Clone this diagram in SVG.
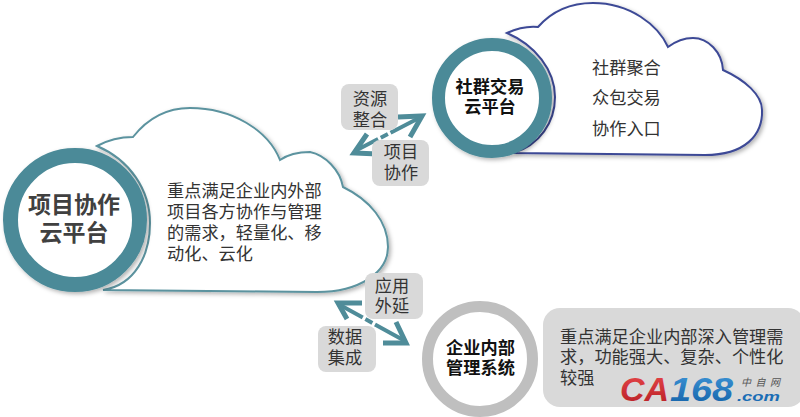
<svg xmlns="http://www.w3.org/2000/svg" width="800" height="417" viewBox="0 0 800 417">
<style>
text{font-family:"Liberation Sans","Noto Sans CJK SC",sans-serif}
.t{font-size:17.2px;fill:#333}
.m{text-anchor:middle}
.b{font-weight:700}
.box{fill:#d9d9d9}
.cloud{fill:#fff;stroke-width:2;stroke-linejoin:miter;filter:url(#sh)}
.ring{fill:#fff;filter:url(#sh)}
.arr{fill:none;stroke:#4f8c99;stroke-width:5}
.shaft{fill:none;stroke:#4f8c99;stroke-width:4}
.logo{font-style:italic;font-weight:700}
</style>
<defs>
<filter id="sh" x="-15%" y="-15%" width="130%" height="130%">
<feDropShadow dx="2" dy="2" stdDeviation="2" flood-color="#000" flood-opacity=".3"/>
</filter>
<linearGradient id="red" x1="0" y1="0" x2="0" y2="1"><stop offset="0" stop-color="#e8474a"/><stop offset="1" stop-color="#b51e24"/></linearGradient>
<linearGradient id="blue" x1="0" y1="0" x2="0" y2="1"><stop offset="0" stop-color="#3f97d8"/><stop offset="1" stop-color="#125fa6"/></linearGradient>
</defs>
<rect width="800" height="417" fill="#fff"/>
<g id="connectors">
<path class="shaft" d="M355,151 L419,118" stroke-dasharray="26 3 8 3 40"/>
<path class="arr" d="M398,117 L422,116 L410,137"/>
<path class="arr" d="M367,134 L354,153 L378,154"/>
<path class="shaft" d="M340,305 L405,341" stroke-dasharray="26 3 8 3 40"/>
<path class="arr" d="M362,303 L338,303 L347,319"/>
<path class="arr" d="M396,322 L406,343 L383,343"/>
</g>
<g id="cloud-project">
<path class="cloud" stroke="#5b939f" d="M97,146 C108,140 120,137 133,137 C148,118 168,108 190,108 C232,108 268,130 280,160 C290,153 300,152 310,152 C325,155 340,170 343,187 C370,200 388,222 388,247 C388,272 360,292 317,292 L103,290 C135,285 150,255 150,223 C150,190 130,160 97,146 Z"/>
<text class="t"><tspan x="167" y="197">重点满足企业内外部</tspan><tspan x="167" y="218">项目各方协作与管理</tspan><tspan x="167" y="239">的需求，轻量化、移</tspan><tspan x="167" y="260">动化、云化</tspan></text>
<circle class="ring" cx="75" cy="220" r="64.5" stroke="#4b8a98" stroke-width="15"/>
<text class="m b" font-size="23" fill="#404040" x="74" y="213">项目协作</text>
<text class="m b" font-size="23" fill="#404040" x="74" y="241">云平台</text>
</g>
<g id="cloud-community">
<path class="cloud" stroke="#3d4a96" d="M507,33 C518,28 528,26 538,27 C553,10 572,3 593,3 C630,3 658,25 668,47 C676,41 685,38 693,38 C708,38 722,52 723,70 C745,80 762,95 762,110 C763,135 745,155 705,155 L513,153 C540,145 555,122 555,97 C555,70 535,45 507,33 Z"/>
<text class="t"><tspan x="592" y="74">社群聚合</tspan><tspan x="592" y="104">众包交易</tspan><tspan x="592" y="135">协作入口</tspan></text>
<circle class="ring" cx="492" cy="98" r="53.5" stroke="#4b8a98" stroke-width="13"/>
<text class="m b" font-size="17.2" fill="#111" x="490" y="93">社群交易</text>
<text class="m b" font-size="17.2" fill="#111" x="490" y="113">云平台</text>
</g>
<g id="system-enterprise">
<circle cx="480" cy="359" r="52.5" fill="#fff" stroke="#bfbfbf" stroke-width="11"/>
<text class="m b" font-size="17.2" fill="#111" x="480.500" y="354">企业内部</text>
<text class="m b" font-size="17.2" fill="#111" x="480.500" y="374">管理系统</text>
</g>
<g id="desc-enterprise">
<rect class="box" x="543" y="308" width="262" height="99" rx="17"/>
<text class="t"><tspan x="560" y="343">重点满足企业内部深入管理需</tspan><tspan x="560" y="363">求，功能强大、复杂、个性化</tspan><tspan x="560" y="384">较强</tspan></text>
</g>
<g id="label-resource">
<rect class="box" x="341" y="84" width="57" height="46" rx="8"/>
<text class="t m"><tspan x="370" y="105">资源</tspan><tspan x="370" y="126">整合</tspan></text>
</g>
<g id="label-collab">
<rect class="box" x="372" y="140" width="57" height="46" rx="8"/>
<text class="t m"><tspan x="401" y="158">项目</tspan><tspan x="401" y="179">协作</tspan></text>
</g>
<g id="label-extend">
<rect class="box" x="365" y="273" width="58" height="46" rx="8"/>
<text class="t m"><tspan x="392" y="292">应用</tspan><tspan x="392" y="312">外延</tspan></text>
</g>
<g id="label-data">
<rect class="box" x="318" y="326" width="58" height="46" rx="8"/>
<text class="t m"><tspan x="345" y="343">数据</tspan><tspan x="345" y="364">集成</tspan></text>
</g>
<g id="logo">
<text class="logo" x="620" y="401" font-size="33" fill="url(#red)" textLength="49" lengthAdjust="spacingAndGlyphs">CA</text>
<text class="logo" x="670" y="401" font-size="33" fill="url(#blue)" textLength="63" lengthAdjust="spacingAndGlyphs">168</text>
<text class="logo" x="737" y="401" font-size="13" fill="#1a6db5" textLength="43" lengthAdjust="spacingAndGlyphs">.com</text>
<text x="741" y="386" font-size="10" font-style="italic" fill="#555" textLength="39">中自网</text>
</g>
</svg>
